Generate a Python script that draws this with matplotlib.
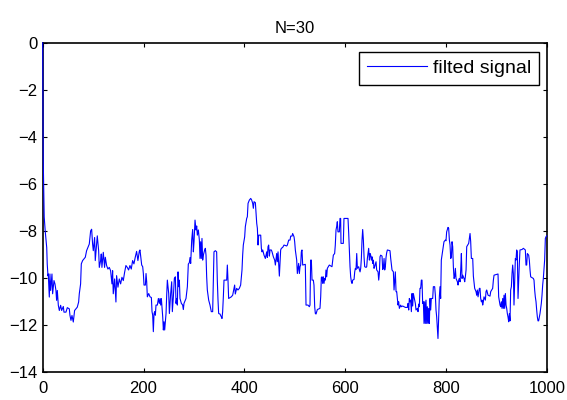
import numpy as np
import matplotlib
matplotlib.use("Agg")
import matplotlib.pyplot as plt

plt.rcParams['font.family'] = ['Liberation Sans', 'DejaVu Sans']

# filtered signal, vertices of the trace (sample index, amplitude)
n = [0, 1, 3, 5, 8, 9, 10.5, 11.1, 13.1, 14.4, 15.8, 18.4, 19.7, 22.4, 24.3, 26.3, 27.6, 29,
     31, 33, 35.6, 37.6, 40.9, 42.2, 46.2, 48.8, 52.8, 54.1, 56.1, 58.1, 60.7, 63.3, 66, 68.6,
     71.3, 72.6, 75.2, 76.6, 79.2, 81.9, 84.5, 87.1, 89.8, 92.4, 95.1, 97.1, 99, 100.4, 103,
     104.3, 107, 108.3, 111, 112.3, 114.9, 116.2, 117.5, 120.2, 122.8, 124.2, 126.8, 129.4,
     132.1, 134.7, 137.4, 138.7, 140, 142.7, 145.3, 146.6, 149.3, 151.9, 154.6, 157.2, 159.9,
     162.5, 165.1, 167.8, 170.4, 173.1, 175.7, 178.4, 181, 183.6, 186.3, 188.9, 191.6,
     193, 196.4, 198.4, 199.7, 201, 203.7, 205, 206.3, 207.6, 210.3, 212.9, 215.6, 216.9,
     218.2, 219.5, 220.9, 222.2, 223.5, 224.8, 227.5, 229.5, 231.4, 232.8, 234.1, 235.4,
     236.7, 238.1, 239.4, 240.7, 242, 243.3, 244.7, 246, 247.3, 250, 251.3, 252.6, 253.9,
     255.9, 257.2, 259.2, 261.2, 263.2, 264.5, 265.8, 267.1, 268.5, 269.8, 271.1, 272.4,
     275.1, 277.7, 279, 280.3, 283, 284.3, 287, 288.9, 290.9, 292.3, 293.6, 295.6, 297.5,
     298.9, 300.2, 302.2, 304.1, 305.5, 306.8, 308.8, 310.8, 312.1, 313.4, 314.7, 316, 317.4,
     318.7, 321.3, 322.7, 324, 325.3, 326.6, 329.3, 331.9, 334.5, 337.2, 338.5, 339.8, 342.5,
     345.1, 346.4, 347.8, 349.1, 351.7, 354.4, 355.7, 357, 358.4, 359.7, 365, 366.3, 367.6,
     368.9, 374.2, 376.9, 378.2, 380.8, 382.1, 384.8, 387.4, 390.1, 392.7, 395.4, 396.7, 398,
     400.7, 402, 404.7, 406, 407.4, 410, 412.7, 414.6, 416.6, 417.9, 419.3, 421.9, 423.2,
     424.6, 425.9, 427.2, 428.5, 432.5, 433.8, 435.1, 436.5, 439.1, 440.4, 441.7, 444.4,
     445.7, 447, 448.3, 449.7, 451, 453.6, 455, 457.6, 460.2, 461.6, 464.2, 465.5, 466.9,
     468.2, 469.5, 470.8, 472.1, 473.5, 476.1, 478.8, 484, 485.4, 488, 490.7, 492, 494.6,
     495.9, 497.3, 498.6, 499.9, 501.2, 503.9, 505.2, 507.8, 509.2, 510.5, 511.8, 513.1,
     514.4, 515.8, 521, 522.4, 526.3, 529, 530.3, 531.6, 533, 534.3, 536.9, 538.2, 539.6,
     540.9, 542.2, 544.9, 550.1, 551.5, 552.8, 554.1, 555.4, 556.8, 558.1, 559.4, 560.7, 562,
     563.4, 564.7, 568.6, 573.9, 576.6, 579.2, 580.5, 581.9, 583.2, 584.5, 585.8, 588.5,
     589.8, 591.1, 591.8, 596.4, 597.7, 605.7, 607.1, 608.4, 609.7, 611, 612.4, 613.7, 615,
     617.7, 619, 620.3, 621.6, 623, 624.3, 626.9, 628.2, 629.6, 630.9, 632.2, 633.5, 634.8,
     636.2, 637.5, 638.8, 641.5, 642.8, 644.1, 645.4, 646.7, 648.1, 649.4, 650.7, 652, 653.4,
     654.7, 656, 657.3, 658.6, 661.3, 662.6, 665.3, 666.6, 667.9, 669.2, 670.5, 673.2, 674.5,
     675.8, 677.2, 678.5, 679.8, 681.1, 682.4, 683.8, 689, 690.4, 693, 695.7, 697, 699.6, 701,
     702.3, 703.6, 704.9, 706.2, 707.6, 710.2, 711.5, 714.2, 719.5, 723.4, 724.8, 726.1,
     727.4, 728.7, 730, 731.4, 732.7, 734, 735.3, 736.6, 739.3, 740.6, 743.3, 744.6, 745.9,
     747.2, 748.5, 749.9, 751.2, 752.5, 753.8, 755.2, 756.5, 757.8, 759.1, 760.4, 761.8,
     763.1, 764.4, 765.7, 767, 768.4, 769.7, 771, 773.7, 775, 777.6, 779, 780.3, 781.6,
     782.9, 784.2, 785.6, 786.9, 788.2, 789.5, 790.8, 792.2, 793.5, 794.8, 796.1, 798.8,
     800.1, 801.4, 804.1, 805.4, 806.8, 808.1, 809.5, 810.8, 812.1, 813.4, 814.7, 816.1,
     817.4, 818.7, 820, 822.7, 824, 825.3, 826.6, 828, 829.3, 830.6, 831.9, 833.2, 835.9,
     837.2, 838.5, 839.9, 841.2, 845.1, 846.5, 847.8, 849.1, 850.4, 853.1, 854.4, 857, 859.7,
     861, 862.3, 863.7, 866.3, 867.6, 868.9, 870.3, 871.6, 872.9, 874.2, 875.5, 878.2, 879.5,
     880.8, 883.5, 887.4, 888.8, 892.7, 894.1, 895.4, 903.3, 904.6, 907.3, 908.6, 909.9,
     911.2, 912.6, 913.9, 915.2, 916.5, 917.9, 919.2, 920.5, 921.8, 923.1, 924.5, 925.8,
     927.1, 928.4, 929.8, 931.1, 932.4, 933.7, 935, 936.4, 937.7, 939, 940.3, 941.6, 943,
     944.3, 945.6, 946.9, 950.9, 953.6, 957.5, 958.8, 960.2, 961.5, 964.1, 965.4, 966.8,
     968.1, 973.4, 974.7, 976, 977.3, 978.7, 980, 981.3, 982.6, 983.9, 985.3, 986.6, 987.9,
     989.2, 990.6, 991.9, 993.2, 994.5, 995.8, 997.2, 998.5, 1000]

sig = [0.0, -4.9, -7.4, -8.0, -8.7, -9.4, -9.9, -9.82, -10.80, -9.82, -10.52, -9.82, -10.66,
       -10.10, -10.24, -10.52, -10.94, -10.52, -11.15, -11.37, -11.15, -11.37, -11.20, -11.44,
       -11.44, -11.25, -11.30, -11.58, -11.79, -11.58, -11.86, -11.37, -11.30, -11.23, -11.01,
       -10.66, -10.24, -9.39, -9.25, -9.18, -9.11, -8.83, -8.69, -8.55, -7.99, -7.92, -8.55,
       -8.83, -8.27, -9.25, -8.55, -8.20, -8.83, -9.54, -9.25, -8.97, -9.54, -8.90, -9.54,
       -9.11, -9.46, -9.61, -9.54, -9.68, -10.24, -9.68, -10.66, -10.03, -11.01, -9.89,
       -10.38, -10.03, -10.24, -9.96, -10.10, -9.75, -9.46, -9.54, -9.65, -9.46, -9.61, -9.25,
       -9.39, -9.11, -8.86, -9.25, -8.86,
       -8.80, -9.44, -9.51, -9.80, -10.29, -10.29, -9.80, -10.15, -10.79, -10.65, -10.79,
       -10.82, -11.42, -11.57, -12.27, -11.50, -11.42, -11.57, -11.14, -11.14, -10.86, -11.07,
       -10.86, -11.14, -10.86, -11.21, -11.64, -12.20, -11.85, -12.20, -11.85, -11.50, -10.72,
       -10.08, -10.65, -11.50, -11.07, -10.65, -10.15, -11.42, -10.79, -10.01, -9.94, -11.07,
       -10.86, -11.14, -9.73, -10.36, -10.08, -10.86, -11.07, -11.14, -11.33, -11.07, -10.93,
       -10.86, -10.36, -9.40, -9.34, -9.12, -9.37, -8.38, -7.93, -8.88, -8.45, -7.53, -7.95,
       -7.78, -8.17, -7.95, -8.38, -9.16, -8.45, -9.16, -8.31, -9.23, -9.02, -8.80, -8.73,
       -9.02, -9.94, -10.50, -10.93, -11.14, -11.42, -11.42, -10.08, -8.88, -8.83, -8.88,
       -10.08, -10.93, -11.50, -11.52, -11.64, -11.71, -11.42, -10.79, -10.08, -10.08, -9.44,
       -10.08, -10.86, -10.79, -10.72, -10.57, -10.29, -10.67, -10.43, -10.50, -10.43, -10.29,
       -9.65, -9.02, -8.59, -8.24, -7.81, -7.46, -7.39, -6.82, -6.68, -6.61, -6.68, -6.82,
       -7.03, -6.75, -6.79, -7.25, -7.67, -7.88, -8.59, -8.17, -8.17, -8.73, -8.88, -8.80,
       -9.02, -9.09, -9.16, -8.88, -9.12, -8.66, -8.59, -9.06, -8.80, -8.80, -8.88, -9.09,
       -9.23, -9.44, -8.95, -9.30, -8.88, -9.44, -9.91, -9.37, -8.80, -8.73, -8.69, -8.59,
       -8.63, -8.59, -8.38, -8.38, -8.21, -8.21, -8.10, -8.17, -8.24, -8.45, -8.80, -9.23,
       -9.80, -9.37, -9.80, -9.51, -9.44, -8.88, -8.80, -9.44, -9.41, -11.14, -11.14, -11.21,
       -11.14, -9.23, -9.23, -10.08, -10.08, -10.29, -11.21, -11.50, -11.52, -11.33, -11.28,
       -10.79, -9.97, -9.94, -10.22, -9.94, -10.22, -10.01, -10.08, -9.65, -9.94, -9.58,
       -9.44, -9.51, -9.02, -8.95, -8.59, -7.95, -7.81, -7.60, -8.03, -8.03, -7.46, -7.46,
       -8.52, -8.52, -7.46, -7.46, -8.10, -8.80, -9.51, -9.94, -10.15, -10.22, -10.08, -10.05,
       -9.73, -9.58, -9.63, -8.95, -9.58, -9.51, -9.63, -9.73, -9.58, -9.16, -8.38, -7.93,
       -8.38, -9.09, -9.51, -9.54, -9.51, -9.16, -8.95, -8.73, -9.23, -8.95, -9.02, -9.23,
       -9.09, -9.37, -9.23, -9.58, -9.51, -9.30, -9.65, -9.73, -10.08, -9.80, -9.09, -9.02,
       -9.06, -9.63, -9.58, -9.16, -9.65, -9.51, -9.12, -8.92, -8.80, -8.83, -9.16, -9.65,
       -9.73, -10.50, -9.73, -10.57, -10.57, -10.86, -11.14, -11.00, -11.28, -11.14, -11.21,
       -11.18, -11.24, -11.24, -11.07, -11.35, -10.86, -11.00, -10.93, -11.42, -10.65, -11.18,
       -10.65, -10.79, -11.07, -11.35, -11.28, -11.42, -11.10, -11.21, -10.43, -10.43,
       -10.08, -10.08, -11.07, -11.00, -11.92, -11.00, -11.92, -10.93, -11.92, -11.21,
       -11.92, -11.28, -11.92, -10.86, -11.35, -10.86, -10.86, -10.36, -10.36, -10.72,
       -11.35, -11.64, -12.13, -12.56, -11.64, -10.79, -10.36, -10.86, -9.23, -9.02, -8.80,
       -8.66, -8.45, -8.38, -8.41, -8.03, -7.84, -7.88, -8.38, -8.59, -9.16, -9.09, -8.45,
       -8.66, -9.51, -10.01, -9.94, -9.58, -10.01, -10.15, -10.29, -10.08, -10.01, -10.15,
       -9.65, -8.95, -10.01, -9.87, -10.01, -10.15, -9.94, -9.65, -8.66, -8.52, -8.31, -8.10,
       -8.45, -9.16, -9.16, -9.91, -10.43, -10.57, -10.72, -10.50, -10.79, -10.43, -10.43,
       -10.86, -11.00, -10.93, -11.14, -11.00, -10.79, -10.93, -10.57, -10.50, -10.72, -10.76,
       -10.57, -10.43, -10.08, -9.87, -9.82, -10.79, -11.14, -11.21, -11.00, -11.28, -10.86,
       -11.28, -10.72, -11.28, -10.65, -11.14, -11.28, -11.50, -11.64, -11.85, -11.50, -11.81,
       -10.50, -10.36, -9.80, -9.44, -9.80, -11.14, -10.08, -9.16, -9.23, -8.80, -8.88,
       -10.86, -10.08, -9.37, -8.80, -8.78, -8.73, -8.80, -9.44, -9.44, -8.95, -9.02, -9.23,
       -9.65, -9.94, -10.01, -10.08, -10.50, -10.79, -11.00, -11.35, -11.64, -11.81, -11.81,
       -11.64, -11.50, -11.28, -11.07, -10.72, -10.29, -10.01, -9.65, -9.23, -8.31, -8.24,
       -8.2]

fig = plt.figure(figsize=(5.67, 4.0), dpi=100)
ax = fig.add_axes([0.0753, 0.069, 0.889, 0.824])

# trace drawn above the spines so the start at x=0 stays visible
ax.plot(n, sig, color='#0000ff', linewidth=0.8, label='filted signal',
        zorder=3, clip_on=False)

ax.set_xlim(0, 1000)
ax.set_ylim(-14, 0)
ax.set_xticks(np.arange(0, 1001, 200))
ax.set_yticks(np.arange(-14, 1, 2))
ax.set_title('N=30', fontsize=12, pad=7)

ax.tick_params(direction='in', top=True, right=True, length=3, width=0.8,
               labelsize=12)
ax.tick_params(axis='x', pad=6)
ax.tick_params(axis='y', pad=4)
for s in ax.spines.values():
    s.set_linewidth(1.2)
    s.set_color('black')

ax.legend(loc='upper right', bbox_to_anchor=(0.985, 0.973), borderaxespad=0,
          fancybox=False, framealpha=1, edgecolor='black', fontsize=14,
          handlelength=3.1, handletextpad=0.3, borderpad=0.4)

fig.savefig('out.png', dpi=100)
